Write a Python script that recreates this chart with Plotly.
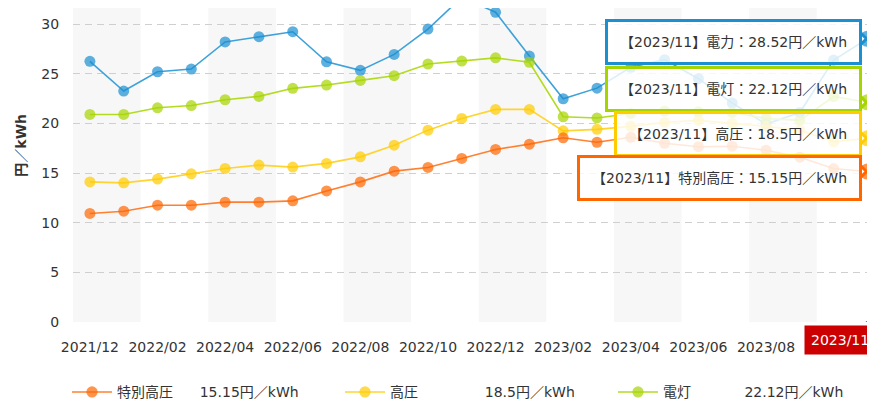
import plotly.graph_objects as go

# months shown on the x axis (index 0 .. 23)
months = ["2021/12", "2022/01", "2022/02", "2022/03", "2022/04", "2022/05",
          "2022/06", "2022/07", "2022/08", "2022/09", "2022/10", "2022/11",
          "2022/12", "2023/01", "2023/02", "2023/03", "2023/04", "2023/05",
          "2023/06", "2023/07", "2023/08", "2023/09", "2023/10", "2023/11"]

# 円/kWh per contract type
tokubetsu = [10.93, 11.16, 11.76, 11.76, 12.07, 12.07, 12.2, 13.2, 14.11, 15.19,
             15.56, 16.47, 17.38, 17.91, 18.55, 18.1, 18.6, 18.0, 17.65, 17.7,
             17.3, 16.6, 15.45, 15.15]
koatsu = [14.11, 14.01, 14.39, 14.92, 15.46, 15.8, 15.6, 15.97, 16.63, 17.81,
          19.32, 20.5, 21.41, 21.41, 19.25, 19.4, 19.7, 20.1, 20.3, 20.0,
          19.7, 19.3, 18.15, 18.5]
dento = [20.9, 20.9, 21.57, 21.8, 22.38, 22.72, 23.53, 23.86, 24.33, 24.8,
         25.98, 26.28, 26.6, 26.15, 20.67, 20.55, 21.0, 21.24, 21.17, 21.1,
         20.5, 20.3, 22.7, 22.12]
denryoku = [26.25, 23.26, 25.2, 25.47, 28.2, 28.73, 29.23, 26.2, 25.34, 26.95,
            29.5, 32.7, 31.19, 26.78, 22.48, 23.55, 25.65, 26.42, 24.5, 22.05,
            19.93, 21.1, 26.38, 28.52]

latest_label = "2023/11"
tick_idx = list(range(0, 21, 2))

FONT = "DejaVu Sans, Noto Sans CJK JP, sans-serif"
TXT = "#333333"
NB = "\u00a0"

# name, values, line colour, marker colour, legend gap, callout y shift
series = [
    ("電力", denryoku, "#3ea2da", "#1a8fd1", 0, -3),
    ("電灯", dento, "#b3db22", "#a6d400", 12, 13),
    ("高圧", koatsu, "#ffd430", "#ffcc00", 15, 4),
    ("特別高圧", tokubetsu, "#ff8030", "#ff6600", 6, -6),
]
rank = {"特別高圧": 1, "高圧": 2, "電灯": 3, "電力": 4}

x = list(range(len(months)))
fig = go.Figure()

# alternating grey bands, two months wide
for start in range(0, len(months), 4):
    fig.add_shape(type="rect", xref="x", yref="paper",
                  x0=start - 0.5, x1=start + 1.5, y0=0, y1=1,
                  fillcolor="#f7f7f7", line_width=0, layer="below")

for name, vals, lc, mc, gap, ysh in series:
    sizes = [11] * (len(vals) - 1) + [16]
    fig.add_trace(go.Scatter(
        x=x, y=vals, mode="lines+markers",
        name=f"{name}{NB * gap}{vals[-1]:g}円／kWh" if name != "電力" else name,
        line=dict(color=lc, width=1.6),
        marker=dict(color=mc, size=sizes, line=dict(width=0)),
        showlegend=(name != "電力"),
        legendrank=rank[name],
        cliponaxis=False,
    ))
    # callout box for the latest month
    fig.add_annotation(
        x=x[-1], y=vals[-1], xref="x", yref="y",
        text=f"【{latest_label}】{name}：{vals[-1]:g}円／kWh",
        showarrow=False, xanchor="right", yanchor="middle",
        xshift=-5, yshift=ysh,
        font=dict(family=FONT, size=14, color=TXT),
        bgcolor="rgba(255,255,255,0.82)", bordercolor=mc,
        borderwidth=3, borderpad=12,
    )
    fig.add_shape(type="path", xref="x", yref="y",
                  xsizemode="pixel", ysizemode="pixel",
                  xanchor=x[-1], yanchor=vals[-1],
                  path="M -7,-6 L -1,0 L -7,6",
                  line=dict(color=mc, width=3), fillcolor="white",
                  layer="above")

# highlighted label of the latest month
fig.add_annotation(
    x=x[-1], y=0, xref="x", yref="paper", text=latest_label,
    showarrow=False, xanchor="center", yanchor="top", xshift=-27, yshift=-3,
    font=dict(family=FONT, size=14, color="white"),
    bgcolor="#cc0000", borderpad=6,
)
fig.add_shape(type="path", xref="x", yref="y",
              xsizemode="pixel", ysizemode="pixel",
              xanchor=x[-1], yanchor=0,
              path="M -7,-6 L -1,1 L 5,-6 Z",
              line=dict(color="#cc0000", width=0), fillcolor="#cc0000",
              layer="above")

# y axis title
fig.add_annotation(
    x=-0.076, y=0.563, xref="paper", yref="paper", text="<b>円／kWh</b>",
    textangle=-90, showarrow=False,
    font=dict(family=FONT, size=14, color=TXT),
)

fig.update_xaxes(
    range=[-0.5, 23.46], tickvals=tick_idx,
    ticktext=[months[i] for i in tick_idx],
    showgrid=False, zeroline=False, showline=False, automargin=False,
    ticks="outside", ticklen=12, tickcolor="rgba(0,0,0,0)",
    tickfont=dict(family=FONT, size=14, color=TXT),
)
fig.update_yaxes(
    range=[0, 31.62], dtick=5, tick0=0,
    showgrid=True, gridcolor="#cfcfcf", griddash="7px,5px", gridwidth=1,
    zeroline=False, showline=False, automargin=False,
    ticks="outside", ticklen=10, tickcolor="rgba(0,0,0,0)",
    tickfont=dict(family=FONT, size=14, color=TXT),
)

# the page adds an 8px body margin, so the figure is laid out 8px up/left
fig.update_layout(
    width=875, height=402,
    margin=dict(l=65, r=0, t=0, b=88, autoexpand=False),
    plot_bgcolor="white", paper_bgcolor="white",
    font=dict(family=FONT, size=14, color=TXT),
    legend=dict(orientation="h", x=-0.0074, y=-0.224, xanchor="left",
                yanchor="middle", entrywidth=218, entrywidthmode="pixels",
                itemwidth=40,
                font=dict(family=FONT, size=14, color=TXT)),
    showlegend=True,
)

fig.write_html("out.html")
